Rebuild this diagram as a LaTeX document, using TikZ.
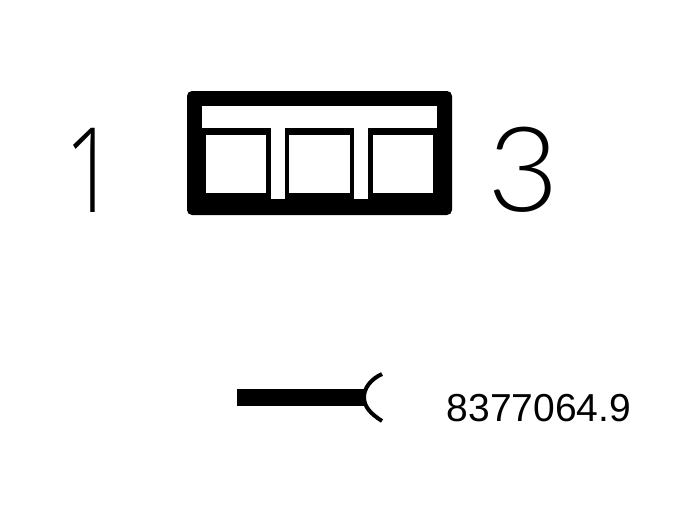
\documentclass[tikz,border=0pt]{standalone}
\usepackage{fontspec}
\setmainfont{Liberation Sans}
\newfontfamily\thinfont{Lato Light}
\newfontfamily\onefont{Open Sans Light}
\tikzset{
  px/.style={x=1pt,y=-1pt},
  whitearea/.style={fill=white,draw=none},
  blackarea/.style={fill=black,draw=none},
  bigdigit/.style={inner sep=0pt,font=\thinfont\fontsize{118}{118}\selectfont},
  onedigit/.style={inner sep=0pt,font=\onefont\fontsize{118}{118}\selectfont},
  smalltext/.style={inner sep=0pt,font=\fontsize{39}{39}\selectfont},
  fork/.style={draw=black,line width=4pt}
}
\begin{document}
\begin{tikzpicture}[px]
\useasboundingbox (0,0) rectangle (688,512);
% outer housing
\fill[blackarea,rounded corners=5pt] (187,91) rectangle (452,215);
% top bar and slots
\fill[whitearea] (202,106) rectangle (437,128);
\fill[whitearea] (271,128) rectangle (285,199);
\fill[whitearea] (354,128) rectangle (368,199);
% cells
\fill[whitearea] (206,135) rectangle (266,193);
\fill[whitearea] (289,135) rectangle (350,193);
\fill[whitearea] (373,135) rectangle (433,193);
% labels
\node[onedigit,anchor=center,xscale=0.78] (one) at (91,170) {1};
\node[bigdigit,anchor=center,xscale=1.05] (three) at (523,170) {3};
\node[smalltext,anchor=center] (code) at (539,408) {8377064.9};
% symbol
\fill[blackarea] (237,389) rectangle (365,406);
\draw[fork] (382,374) .. controls (371,379) and (364,388) .. (364,397)
            .. controls (364,407) and (371,414) .. (382,421);
\end{tikzpicture}
\end{document}
